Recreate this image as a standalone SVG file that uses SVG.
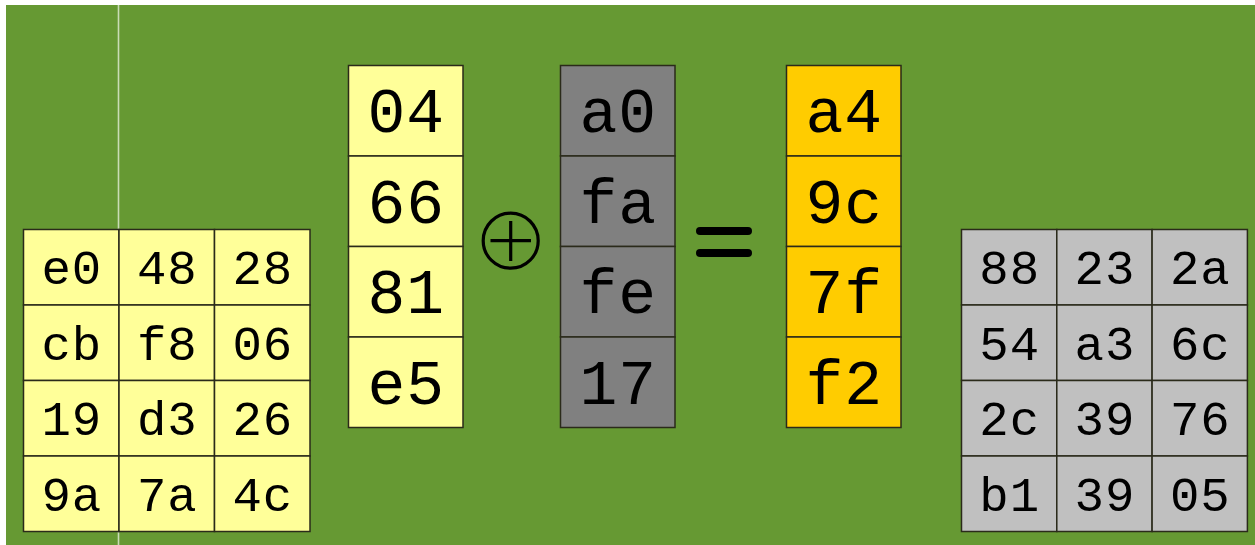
<svg xmlns="http://www.w3.org/2000/svg" width="1255" height="545" viewBox="0 0 1255 545">
  <style>
    .cell { stroke: #2a2a1a; stroke-width: 1.5; }
    .pale { fill: #ffff99; }
    .grey { fill: #808080; }
    .gold { fill: #ffcc00; }
    .silver { fill: #c0c0c0; }
    .big { font-family: "Liberation Mono", "Courier New", monospace; font-size: 63px; fill: #000; text-anchor: middle; letter-spacing: 1px; }
    .mid { font-family: "Liberation Mono", "Courier New", monospace; font-size: 49px; fill: #000; text-anchor: middle; letter-spacing: 1px; }
  </style>

  <!-- backdrop -->
  <rect x="0" y="0" width="1255" height="545" fill="#ffffff"/>
  <rect x="6" y="5" width="1249" height="540" fill="#669933"/>
  <line x1="118.5" y1="5" x2="118.5" y2="545" stroke="#c9dcb6" stroke-width="1.6"/>

  <!-- state matrix (left) -->
  <g id="state-matrix">
    <rect class="cell pale" x="23.5" y="229.5" width="95.5" height="75.5"/>
    <rect class="cell pale" x="119" y="229.5" width="95.5" height="75.5"/>
    <rect class="cell pale" x="214.5" y="229.5" width="95.5" height="75.5"/>
    <rect class="cell pale" x="23.5" y="305" width="95.5" height="75.5"/>
    <rect class="cell pale" x="119" y="305" width="95.5" height="75.5"/>
    <rect class="cell pale" x="214.5" y="305" width="95.5" height="75.5"/>
    <rect class="cell pale" x="23.5" y="380.5" width="95.5" height="75.5"/>
    <rect class="cell pale" x="119" y="380.5" width="95.5" height="75.5"/>
    <rect class="cell pale" x="214.5" y="380.5" width="95.5" height="75.5"/>
    <rect class="cell pale" x="23.5" y="456" width="95.5" height="75.5"/>
    <rect class="cell pale" x="119" y="456" width="95.5" height="75.5"/>
    <rect class="cell pale" x="214.5" y="456" width="95.5" height="75.5"/>
    <text class="mid" x="71.8" y="284">e0</text>
    <text class="mid" x="167.3" y="284">48</text>
    <text class="mid" x="262.8" y="284">28</text>
    <text class="mid" x="71.8" y="360">cb</text>
    <text class="mid" x="167.3" y="360">f8</text>
    <text class="mid" x="262.8" y="360">06</text>
    <text class="mid" x="71.8" y="435">19</text>
    <text class="mid" x="167.3" y="435">d3</text>
    <text class="mid" x="262.8" y="435">26</text>
    <text class="mid" x="71.8" y="511">9a</text>
    <text class="mid" x="167.3" y="511">7a</text>
    <text class="mid" x="262.8" y="511">4c</text>
  </g>

  <!-- input column -->
  <g id="column-in">
    <rect class="cell pale" x="348.5" y="65.5" width="114.5" height="90.5"/>
    <rect class="cell pale" x="348.5" y="156" width="114.5" height="90.5"/>
    <rect class="cell pale" x="348.5" y="246.5" width="114.5" height="90.5"/>
    <rect class="cell pale" x="348.5" y="337" width="114.5" height="90.5"/>
    <text class="big" x="406.2" y="132">04</text>
    <text class="big" x="406.2" y="222.5">66</text>
    <text class="big" x="406.2" y="313">81</text>
    <text class="big" x="406.2" y="403.5">e5</text>
  </g>

  <!-- xor operator -->
  <g id="xor-sign" fill="none" stroke="#000" stroke-width="3.2">
    <circle cx="510.7" cy="240.7" r="27.5"/>
    <line x1="490.5" y1="240.7" x2="531" y2="240.7"/>
    <line x1="510.7" y1="221" x2="510.7" y2="261"/>
  </g>

  <!-- round key column -->
  <g id="column-key">
    <rect class="cell grey" x="560.5" y="65.5" width="114.5" height="90.5"/>
    <rect class="cell grey" x="560.5" y="156" width="114.5" height="90.5"/>
    <rect class="cell grey" x="560.5" y="246.5" width="114.5" height="90.5"/>
    <rect class="cell grey" x="560.5" y="337" width="114.5" height="90.5"/>
    <text class="big" x="618.2" y="132">a0</text>
    <text class="big" x="618.2" y="222.5">fa</text>
    <text class="big" x="618.2" y="313">fe</text>
    <text class="big" x="618.2" y="403.5">17</text>
  </g>

  <!-- equals sign -->
  <g id="equals-sign" stroke="#000" stroke-width="8" stroke-linecap="round">
    <line x1="700" y1="231" x2="748" y2="231"/>
    <line x1="700" y1="253" x2="748" y2="253"/>
  </g>

  <!-- result column -->
  <g id="column-out">
    <rect class="cell gold" x="786.5" y="65.5" width="114.5" height="90.5"/>
    <rect class="cell gold" x="786.5" y="156" width="114.5" height="90.5"/>
    <rect class="cell gold" x="786.5" y="246.5" width="114.5" height="90.5"/>
    <rect class="cell gold" x="786.5" y="337" width="114.5" height="90.5"/>
    <text class="big" x="844.2" y="132">a4</text>
    <text class="big" x="844.2" y="222.5">9c</text>
    <text class="big" x="844.2" y="313">7f</text>
    <text class="big" x="844.2" y="403.5">f2</text>
  </g>

  <!-- result matrix (right) -->
  <g id="result-matrix">
    <rect class="cell silver" x="961.5" y="229.5" width="95.3" height="75.5"/>
    <rect class="cell silver" x="1056.8" y="229.5" width="95.3" height="75.5"/>
    <rect class="cell silver" x="1152.1" y="229.5" width="95.3" height="75.5"/>
    <rect class="cell silver" x="961.5" y="305" width="95.3" height="75.5"/>
    <rect class="cell silver" x="1056.8" y="305" width="95.3" height="75.5"/>
    <rect class="cell silver" x="1152.1" y="305" width="95.3" height="75.5"/>
    <rect class="cell silver" x="961.5" y="380.5" width="95.3" height="75.5"/>
    <rect class="cell silver" x="1056.8" y="380.5" width="95.3" height="75.5"/>
    <rect class="cell silver" x="1152.1" y="380.5" width="95.3" height="75.5"/>
    <rect class="cell silver" x="961.5" y="456" width="95.3" height="75.5"/>
    <rect class="cell silver" x="1056.8" y="456" width="95.3" height="75.5"/>
    <rect class="cell silver" x="1152.1" y="456" width="95.3" height="75.5"/>
    <text class="mid" x="1009.7" y="284">88</text>
    <text class="mid" x="1105" y="284">23</text>
    <text class="mid" x="1200.3" y="284">2a</text>
    <text class="mid" x="1009.7" y="360">54</text>
    <text class="mid" x="1105" y="360">a3</text>
    <text class="mid" x="1200.3" y="360">6c</text>
    <text class="mid" x="1009.7" y="435">2c</text>
    <text class="mid" x="1105" y="435">39</text>
    <text class="mid" x="1200.3" y="435">76</text>
    <text class="mid" x="1009.7" y="511">b1</text>
    <text class="mid" x="1105" y="511">39</text>
    <text class="mid" x="1200.3" y="511">05</text>
  </g>
</svg>
